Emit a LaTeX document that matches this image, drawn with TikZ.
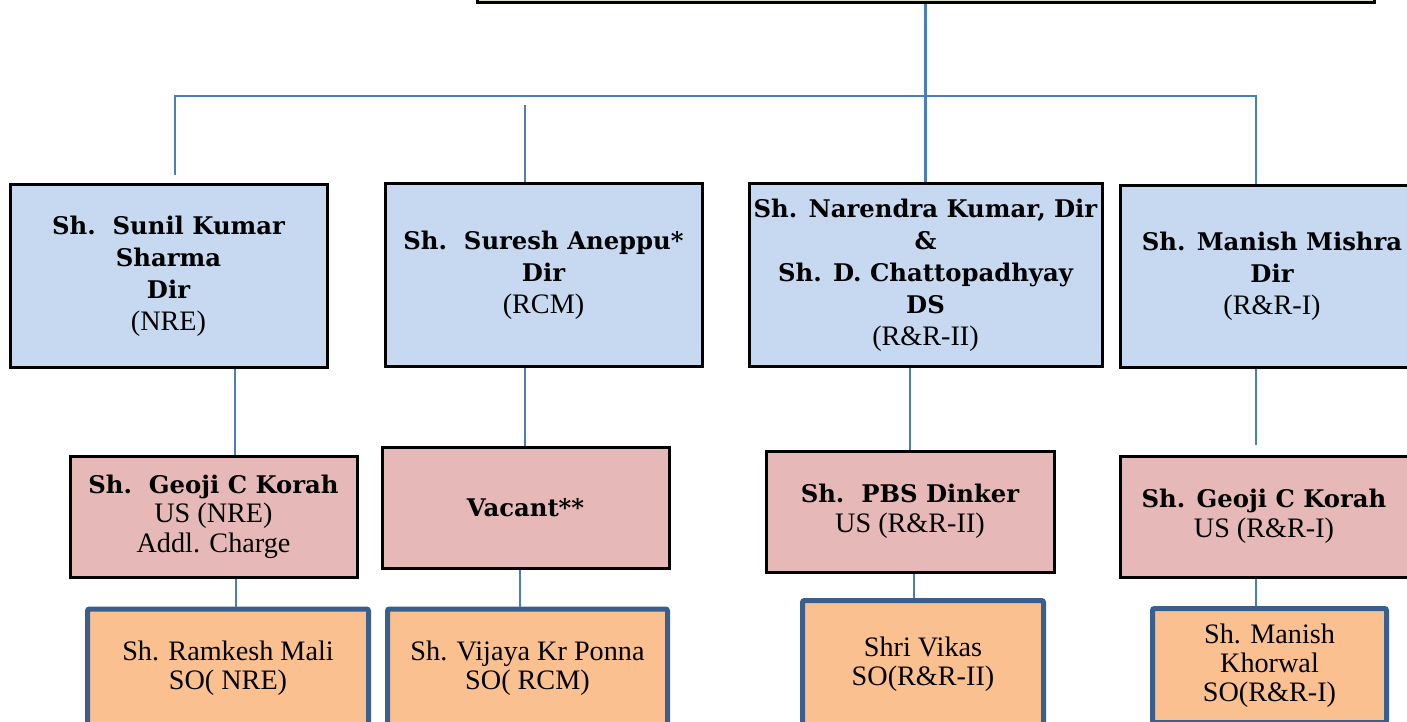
\documentclass[tikz,border=0pt]{standalone}
\usepackage{fontspec}
\setmainfont{Liberation Serif}
\newfontfamily\bkfont{DejaVu Serif}
\definecolor{topf}{HTML}{D7E4BD}
\definecolor{bluef}{HTML}{C6D9F1}
\definecolor{pinkf}{HTML}{E6B9B8}
\definecolor{orangef}{HTML}{FAC090}
\definecolor{sobord}{HTML}{3A5F8D}
\definecolor{wirec}{HTML}{4A7EBB}
\newcommand\Bt{\bkfont\bfseries\fontsize{24.3}{32}\selectfont}
\newcommand\Rt{\rmfamily\mdseries\fontsize{28.2}{32}\selectfont}
\begin{document}
\begin{tikzpicture}[x=1pt,y=-1pt,
  box/.style={draw=black, line width=3pt, inner sep=0pt, align=center, text=black, font=\Rt},
  lvtwo/.style={box, fill=bluef},
  lvthree/.style={box, fill=pinkf, font=\rmfamily\fontsize{28.2}{29.5}\selectfont},
  lvfour/.style={draw=sobord, line width=5pt, fill=orangef, rounded corners=2pt, inner sep=0pt, align=center, text=black, font=\rmfamily\fontsize{28.2}{29}\selectfont},
  wire/.style={draw=wirec, line width=2.5pt}]
\useasboundingbox (0,0) rectangle (1407,722);
\clip (0,0) rectangle (1407,722);
\fill[white] (0,0) rectangle (1407,722);

% top box
\node[box, fill=topf, minimum width=897pt, minimum height=53pt] (top) at (925.5,-23.5) {};

% level 2
\node[lvtwo, minimum width=317pt, minimum height=182pt] (b1) at (168.5,276)
  {\Bt Sh.\ \ Sunil Kumar\\ \Bt Sharma\\ \Bt Dir\\ \Rt (NRE)};
\node[lvtwo, minimum width=317pt, minimum height=182pt] (b2) at (543.5,275)
  {\Bt Sh.\ \ Suresh Aneppu*\\ \Bt Dir\\ \Rt (RCM)};
\node[lvtwo, minimum width=353pt, minimum height=182pt] (b3) at (925.5,275)
  {\Bt Sh. Narendra Kumar, Dir\\ \Bt \&\\ \Bt Sh. D. Chattopadhyay\\ \Bt DS\\ \Rt (R\&R-II)};
\node[lvtwo, minimum width=304pt, minimum height=181pt] (b4) at (1272,276.5)
  {\Bt Sh. Manish Mishra\\ \Bt Dir\\ \Rt (R\&R-I)};

% level 3
\node[lvthree, minimum width=287pt, minimum height=121pt] (c1) at (213.5,516.5)
  {\Bt Sh.\ \ Geoji C Korah\\ US (NRE)\\ Addl. Charge};
\node[lvthree, minimum width=287pt, minimum height=121pt] (c2) at (525.5,507.5)
  {\Bt Vacant**};
\node[lvthree, minimum width=288pt, minimum height=121pt] (c3) at (910,511.5)
  {\Bt Sh.\ \ PBS Dinker\\ US (R\&R-II)};
\node[lvthree, minimum width=288pt, minimum height=121pt] (c4) at (1264,516.5)
  {\Bt Sh. Geoji C Korah\\ US (R\&R-I)};

% level 4
\node[lvfour, minimum width=281pt, minimum height=118pt] (d1) at (228,668)
  {Sh. Ramkesh Mali\\ SO( NRE)};
\node[lvfour, minimum width=280pt, minimum height=118pt] (d2) at (527.5,668)
  {Sh. Vijaya Kr Ponna\\ SO( RCM)};
\node[lvfour, minimum width=241pt, minimum height=127pt] (d3) at (923,664)
  {Shri Vikas\\ SO(R\&R-II)};
\node[lvfour, minimum width=234pt, minimum height=114pt] (d4) at (1269.5,665.5)
  {Sh. Manish\\ Khorwal\\ SO(R\&R-I)};

% coordinates
\coordinate (busL) at (175,96);
\coordinate (busR) at (1256,96);
\coordinate (dropA) at (175,175);
\coordinate (dropB) at (525,105);
\coordinate (xa) at (235,0);
\coordinate (xb) at (525,0);
\coordinate (xd) at (1256,0);
\coordinate (ca) at (236,0);
\coordinate (cb) at (520,0);
\coordinate (cc) at (914,0);
\coordinate (gapD) at (1256,445);

% wires
\draw[wire] (top.south) -- (b3.north);
\draw[wire] (dropA) -- (busL) -- (busR) -- (b4.north -| busR);
\draw[wire] (dropB) -- (b2.north -| dropB);
\draw[wire] (b1.south -| xa) -- (c1.north -| xa);
\draw[wire] (b2.south -| xb) -- (c2.north -| xb);
\draw[wire] (b3.south -| c3.north) -- (c3.north);
\draw[wire] (b4.south -| xd) -- (gapD);
\draw[wire] (c1.south -| ca) -- (d1.north -| ca);
\draw[wire] (c2.south -| cb) -- (d2.north -| cb);
\draw[wire] (c3.south -| cc) -- (d3.north -| cc);
\draw[wire] (c4.south -| xd) -- (d4.north -| xd);
\end{tikzpicture}
\end{document}
